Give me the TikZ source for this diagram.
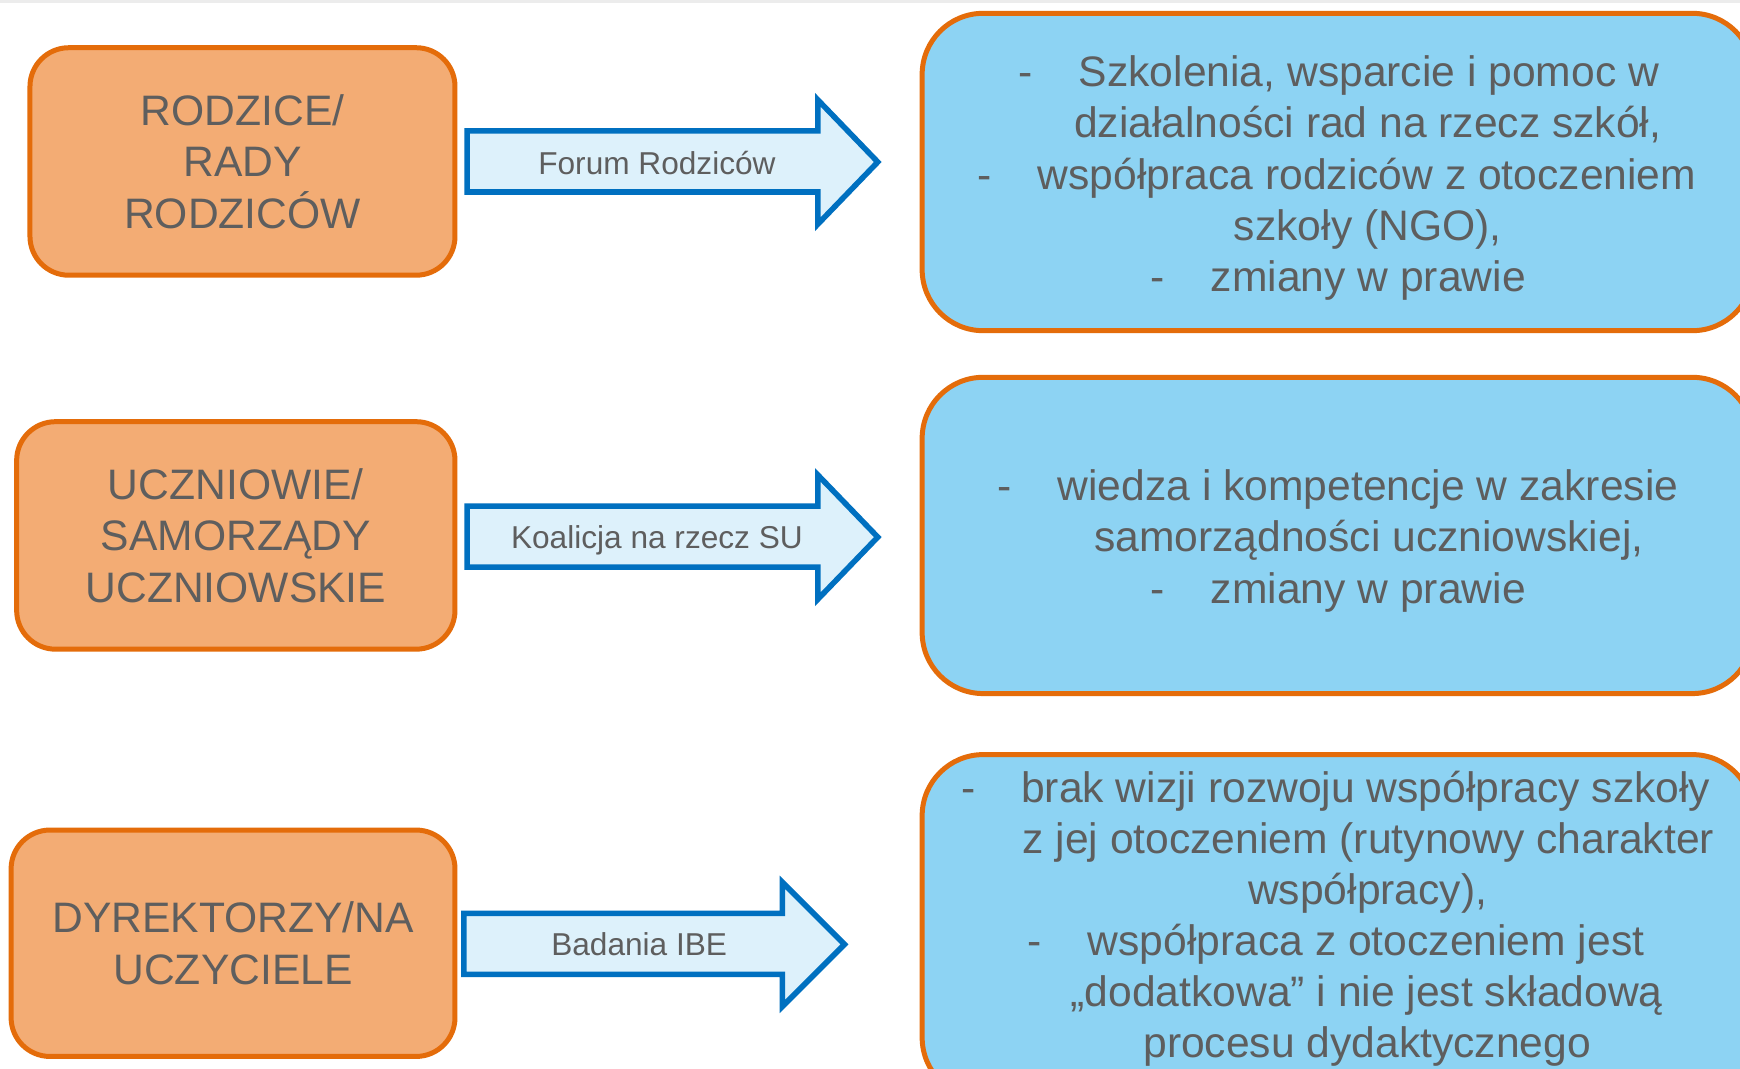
\documentclass[tikz,border=0pt]{standalone}
\usepackage{fontspec}
\setmainfont{Liberation Sans}
\definecolor{txt}{HTML}{5E5E5E}
\definecolor{orangeb}{HTML}{E46C0A}
\definecolor{orangef}{HTML}{F3AC74}
\definecolor{blueb}{HTML}{0070C0}
\definecolor{arrowf}{HTML}{DDF1FB}
\definecolor{bluef}{HTML}{8DD3F3}
\begin{document}
\begin{tikzpicture}[x=1pt,y=-1pt,
  src/.style={draw=orangeb, line width=4.5pt, fill=orangef, rounded corners=35pt, text=txt,
    font=\fontsize{38.4}{46.5}\selectfont, align=center, inner sep=0pt},
  res/.style={draw=orangeb, line width=4.5pt, fill=bluef, rounded corners=55pt, inner sep=0pt},
  barrow/.style={draw=blueb, line width=5pt, fill=arrowf, line join=miter},
  big/.style={text=txt, font=\fontsize{38.4}{46}\selectfont, inner sep=0pt},
  lab/.style={text=txt, font=\fontsize{28.5}{34}\selectfont, inner sep=0pt, anchor=base}]
\clip (0,0) rectangle (1568,963);
\fill[white] (0,0) rectangle (1568,963);
\fill[gray!15] (0,0) rectangle (1568,3);

% left boxes
\node[src, minimum width=383pt, minimum height=205pt] (s1) at (218.5,145.5) {RODZICE/\\RADY\\RODZICÓW};
\node[src, minimum width=395pt, minimum height=205pt] (s2) at (212.5,482.5) {UCZNIOWIE/\\SAMORZĄDY\\UCZNIOWSKIE};
\node[src, minimum width=400pt, minimum height=204pt] (s3) at (210,850) {DYREKTORZY/NA\\UCZYCIELE};

% right boxes
\node[res, minimum width=749pt, minimum height=286pt] (r1) at (1205.5,155) {};
\node[res, minimum width=749pt, minimum height=285pt] (r2) at (1205.5,482.5) {};
\node[res, minimum width=749pt, minimum height=310pt] (r3) at (1205.5,835) {};

% block arrows
\draw[barrow] (421,118) -- (737,118) -- (737,90) -- (791,146) -- (737,202) -- (737,173) -- (421,173) -- cycle;
\draw[barrow] (421,456) -- (737,456) -- (737,428) -- (791,484) -- (737,540) -- (737,511) -- (421,511) -- cycle;
\draw[barrow] (418,823) -- (705,823) -- (705,795) -- (761,851) -- (705,907) -- (705,878) -- (418,878) -- cycle;
\node[lab] (l1) at (592,157) {Forum Rodziców};
\node[lab] (l2) at (592,494) {Koalicja na rzecz SU};
\node[lab] (l3) at (576,861) {Badania IBE};

% texts of box 1
\node[big, anchor=base west] (t11) at (918,78) {\makebox[54pt][l]{-}Szkolenia, wsparcie i pomoc w};
\node[big, anchor=base] (t12) at (1232.5,124) {działalności rad na rzecz szkół,};
\node[big, anchor=base west] (t13) at (881,170.5) {\makebox[54pt][l]{-}współpraca rodziców z otoczeniem};
\node[big, anchor=base] (t14) at (1232.5,217) {szkoły (NGO),};
\node[big, anchor=base west] (t15) at (1037,263) {\makebox[54pt][l]{-}zmiany w prawie};

% texts of box 2
\node[big, anchor=base west] (t21) at (899,451) {\makebox[54pt][l]{-}wiedza i kompetencje w zakresie};
\node[big, anchor=base] (t22) at (1233.5,497) {samorządności uczniowskiej,};
\node[big, anchor=base west] (t23) at (1037,544) {\makebox[54pt][l]{-}zmiany w prawie};

% texts of box 3
\node[big, anchor=base west] (t31) at (866,723) {\makebox[54pt][l]{-}brak wizji rozwoju współpracy szkoły};
\node[big, anchor=base] (t32) at (1233,769) {z jej otoczeniem (rutynowy charakter};
\node[big, anchor=base] (t33) at (1232.5,815) {współpracy),};
\node[big, anchor=base west] (t34) at (926,861) {\makebox[54pt][l]{-}współpraca z otoczeniem jest};
\node[big, anchor=base] (t35) at (1231.5,907) {„dodatkowa” i nie jest składową};
\node[big, anchor=base] (t36) at (1232,953) {procesu dydaktycznego};
\end{tikzpicture}
\end{document}
